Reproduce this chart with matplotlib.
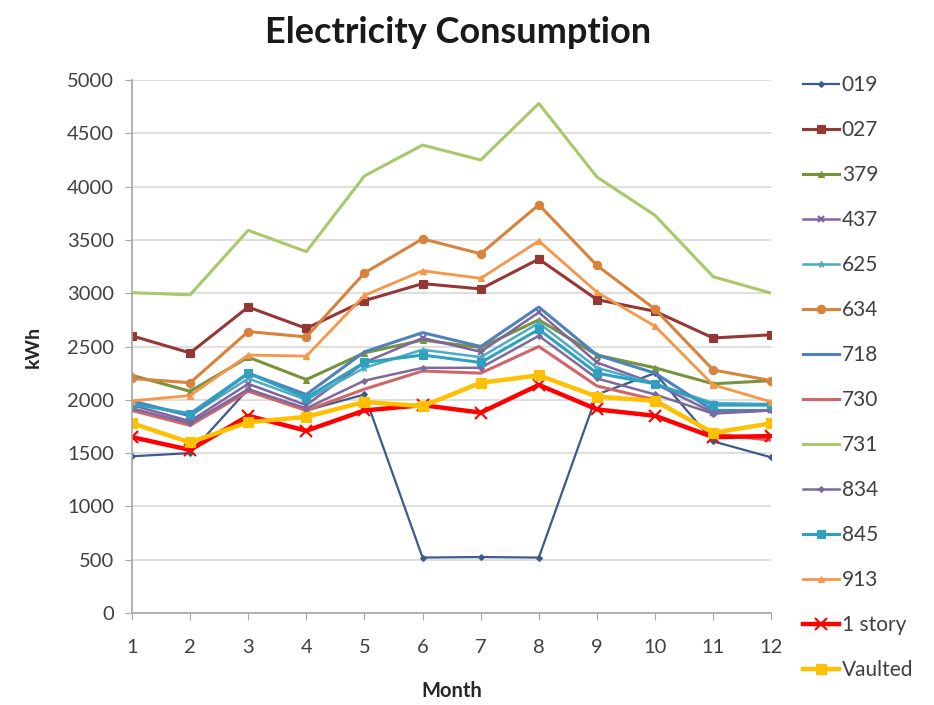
import matplotlib
matplotlib.use("Agg")
import matplotlib.pyplot as plt

plt.rcParams['font.family'] = ['Lato', 'DejaVu Sans']

months = [1, 2, 3, 4, 5, 6, 7, 8, 9, 10, 11, 12]

s019 = [1470, 1500, 2100, 1900, 2050, 520, 525, 520, 2050, 2250, 1610, 1460]
s027 = [2600, 2440, 2870, 2670, 2930, 3090, 3040, 3320, 2940, 2830, 2580, 2610]
s379 = [2230, 2080, 2400, 2190, 2440, 2560, 2490, 2750, 2420, 2300, 2150, 2180]
s437 = [1950, 1800, 2150, 1950, 2350, 2580, 2450, 2820, 2350, 2150, 1880, 1900]
s625 = [1980, 1850, 2200, 2000, 2300, 2470, 2400, 2720, 2300, 2150, 1970, 1960]
s634 = [2200, 2160, 2640, 2590, 3190, 3510, 3370, 3830, 3260, 2850, 2280, 2180]
s718 = [1990, 1850, 2250, 2050, 2450, 2630, 2500, 2870, 2420, 2250, 1900, 1900]
s730 = [1900, 1760, 2080, 1900, 2100, 2270, 2250, 2500, 2130, 2000, 1680, 1620]
s731 = [3005, 2985, 3590, 3390, 4100, 4390, 4250, 4780, 4090, 3730, 3155, 3000]
s834 = [1920, 1780, 2100, 1920, 2180, 2300, 2300, 2600, 2200, 2050, 1870, 1900]
s845 = [1960, 1870, 2250, 2020, 2350, 2420, 2350, 2660, 2250, 2150, 1950, 1950]
s913 = [1990, 2040, 2420, 2410, 2980, 3210, 3140, 3490, 3010, 2690, 2140, 1980]
one_story = [1650, 1530, 1850, 1710, 1900, 1950, 1880, 2140, 1910, 1850, 1650, 1660]
vaulted = [1780, 1600, 1790, 1840, 1980, 1940, 2160, 2230, 2030, 1990, 1690, 1780]

series = [
    ("019", s019, "#3B5B8C", "D", 3, 1.6),
    ("027", s027, "#953735", "s", 6, 2.2),
    ("379", s379, "#77933C", "^", 5, 2.2),
    ("437", s437, "#8064A2", "x", 5, 1.8),
    ("625", s625, "#4BACC6", "*", 5, 1.8),
    ("634", s634, "#D9823B", "o", 6, 2.2),
    ("718", s718, "#4F81BD", None, 0, 2.2),
    ("730", s730, "#D0656A", None, 0, 2.2),
    ("731", s731, "#A8C96A", None, 0, 2.2),
    ("834", s834, "#7E6A9A", "D", 3, 1.8),
    ("845", s845, "#31A0C0", "s", 6, 2.2),
    ("913", s913, "#F79646", "^", 5, 2.0),
    ("1 story", one_story, "#FF0000", "x", 8, 3.2),
    ("Vaulted", vaulted, "#FFC000", "s", 7, 3.2),
]

fig = plt.figure(figsize=(9.34, 7.05), dpi=100)
ax = fig.add_axes([0.1413, 0.1305, 0.6845, 0.756])

for name, vals, color, marker, ms, lw in series:
    kw = dict(color=color, lw=lw, label=name)
    if marker:
        kw.update(marker=marker, markersize=ms, markeredgewidth=1.5 if marker in "x+" else 0.8,
                  markeredgecolor=color, markerfacecolor=color)
    ax.plot(months, vals, **kw)

ax.set_xlim(1, 12)
ax.set_ylim(0, 5000)
ax.set_xticks(months)
ax.set_yticks(range(0, 5001, 500))
ax.grid(axis='y', color='#D9D9D9', lw=1.2)
ax.set_axisbelow(True)
for side in ('top', 'right'):
    ax.spines[side].set_visible(False)
for side in ('left', 'bottom'):
    ax.spines[side].set_color('#A6A6A6')
    ax.spines[side].set_linewidth(1.2)
ax.tick_params(axis='x', colors='#A6A6A6', length=5, labelcolor='#404040', labelsize=14.5, pad=14)
ax.tick_params(axis='y', colors='#A6A6A6', length=5, labelcolor='#404040', labelsize=14.5, pad=8)

ax.set_xlabel("Month", fontsize=14.5, fontweight='bold', color='#262626', labelpad=18)
ax.set_ylabel("kWh", fontsize=14, fontweight='bold', color='#262626', labelpad=18)
fig.suptitle("Electricity Consumption", x=0.49, y=0.978, fontsize=26, fontweight='bold', color='#1a1a1a')

leg = ax.legend(loc='upper left', bbox_to_anchor=(0.851, 0.905), bbox_transform=fig.transFigure,
                frameon=False, fontsize=15, handlelength=1.7, handletextpad=0.15,
                labelspacing=1.2, borderaxespad=0)
for t in leg.get_texts():
    t.set_color('#404040')

fig.savefig("out.png", dpi=100)
